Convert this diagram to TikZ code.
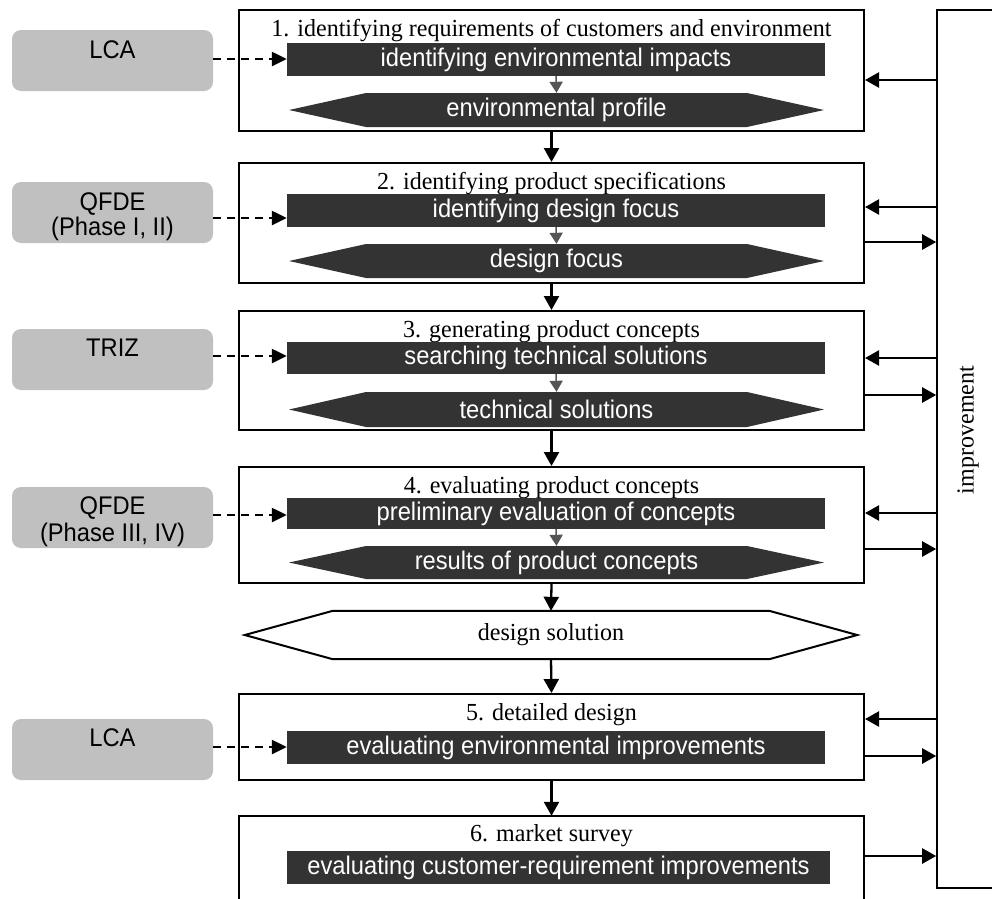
\documentclass[tikz,border=0pt]{standalone}
\usepackage{fontspec}
\setmainfont{Liberation Serif}[FakeStretch=0.98]
\setsansfont{Liberation Sans}[FakeStretch=0.93]
\usetikzlibrary{arrows.meta,calc}
\definecolor{darkbar}{HTML}{333333}
\definecolor{toolgray}{HTML}{C0C0C0}
\definecolor{midgray}{HTML}{555555}
\begin{document}
\begin{tikzpicture}[x=1pt,y=-1pt,
  stagebox/.style={draw=black, line width=2pt, minimum width=625pt, inner sep=0pt},
  serifbig/.style={font=\fontsize{24.5}{29}\selectfont},
  titletext/.style={serifbig, inner sep=0pt, anchor=base},
  sansbig/.style={font=\sffamily\fontsize{25.5}{26}\selectfont},
  darkbar/.style={sansbig, fill=darkbar, text=white, minimum width=538pt, minimum height=33pt, inner sep=0pt},
  hexd/.style={sansbig, text=white, minimum width=535pt, minimum height=34pt, inner sep=0pt,
    path picture={\fill[darkbar] (path picture bounding box.west) -- ([xshift=77pt]path picture bounding box.north west) -- ([xshift=-77pt]path picture bounding box.north east) -- (path picture bounding box.east) -- ([xshift=-77pt]path picture bounding box.south east) -- ([xshift=77pt]path picture bounding box.south west) -- cycle;}},
  tool/.style={fill=toolgray, rounded corners=9pt, minimum width=201pt, minimum height=61pt, inner sep=0pt},
  tooltext/.style={sansbig, inner sep=0pt, anchor=base},
  flow/.style={-{Triangle[length=14pt,width=15pt]}, line width=2.3pt},
  dasharrow/.style={-{Triangle[length=15pt,width=14pt]}, line width=2.4pt, dash pattern=on 8pt off 6pt},
  smallarrow/.style={-{Triangle[length=11pt,width=13pt]}, line width=1.5pt, draw=midgray, fill=midgray},
]
\fill[white] (0,0) rectangle (992,898);
\useasboundingbox (0,0) rectangle (992,898);

% stage boxes
\node[stagebox, minimum height=121pt] (b1) at (551.5,70.5) {};
\node[stagebox, minimum height=120pt] (b2) at (551.5,223) {};
\node[stagebox, minimum height=119pt] (b3) at (551.5,370.5) {};
\node[stagebox, minimum height=116pt] (b4) at (551.5,525) {};
\node[stagebox, minimum height=86pt] (b5) at (551.5,737) {};
\node[minimum width=625pt, minimum height=86pt, inner sep=0pt] (b6) at (551.5,859) {};
\draw[line width=2pt] (b6.south west) -- (b6.north west) -- (b6.north east) -- (b6.south east);

% titles
\node[titletext] (t1) at (551.5,36) {1. identifying requirements of customers and environment};
\node[titletext] (t2) at (551.5,189) {2. identifying product specifications};
\node[titletext] (t3) at (551.5,337) {3. generating product concepts};
\node[titletext] (t4) at (551.5,493) {4. evaluating product concepts};
\node[titletext] (t5) at (551.5,720) {5. detailed design};
\node[titletext] (t6) at (551.5,841) {6. market survey};

% dark bars
\node[darkbar] (r1) at (556,59.5) {identifying environmental impacts};
\node[darkbar] (r2) at (556,210.5) {identifying design focus};
\node[darkbar, minimum height=32pt] (r3) at (556,358) {searching technical solutions};
\node[darkbar, minimum height=31pt] (r4) at (556,513.5) {preliminary evaluation of concepts};
\node[darkbar] (r5) at (556,747.5) {evaluating environmental improvements};
\node[darkbar, minimum width=543pt] (r6) at (558.5,867.5) {evaluating customer-requirement improvements};

% dark hexagons
\node[hexd] (h1) at (556.5,110) {environmental profile};
\node[hexd] (h2) at (556.5,261) {design focus};
\node[hexd, minimum height=35pt] (h3) at (556.5,409.5) {technical solutions};
\node[hexd, minimum height=33pt] (h4) at (556.5,562.5) {results of product concepts};

% design solution
\node[serifbig, minimum width=612pt, minimum height=48pt, inner sep=0pt] (ds) at (551,635) {design solution};
\draw[line width=2pt, line join=miter] (ds.west) -- ([xshift=88pt]ds.north west) -- ([xshift=-88pt]ds.north east) -- (ds.east) -- ([xshift=-88pt]ds.south east) -- ([xshift=88pt]ds.south west) -- cycle;

% small gray arrows inside stages
\draw[smallarrow] (r1.south) -- (h1.north);
\draw[smallarrow] (r2.south) -- (h2.north);
\draw[smallarrow] (r3.south) -- (h3.north);
\draw[smallarrow] (r4.south) -- (h4.north);

% flow arrows between stages
\draw[flow] (b1.south) -- (b2.north);
\draw[flow] (b2.south) -- (b3.north);
\draw[flow] (b3.south) -- (b4.north);
\draw[flow] (b4.south) -- (ds.north);
\draw[flow] (ds.south) -- (b5.north);
\draw[flow] (b5.south) -- (b6.north);

% tools
\node[tool] (L1) at (112.5,60.5) {};
\node[tool] (L2) at (112.5,212.5) {};
\node[tool] (L3) at (112.5,359.5) {};
\node[tool] (L4) at (112.5,517.5) {};
\node[tool] (L5) at (112.5,749.5) {};
\node[tooltext] (L1a) at (112.5,58) {LCA};
\node[tooltext] (L2a) at (112.5,210) {QFDE};
\node[tooltext] (L2b) at (112.5,235.5) {(Phase I, II)};
\node[tooltext] (L3a) at (112.5,356) {TRIZ};
\node[tooltext] (L4a) at (112.5,514) {QFDE};
\node[tooltext] (L4b) at (112.5,541) {(Phase III, IV)};
\node[tooltext] (L5a) at (112.5,746.5) {LCA};

\draw[dasharrow] (L1.east |- 0,59) -- (r1.west |- 0,59);
\draw[dasharrow] (L2.east |- 0,218) -- (r2.west |- 0,218);
\draw[dasharrow] (L3.east |- 0,356) -- (r3.west |- 0,356);
\draw[dasharrow] (L4.east |- 0,515) -- (r4.west |- 0,515);
\draw[dasharrow] (L5.east |- 0,747) -- (r5.west |- 0,747);

% improvement box
\node[draw, line width=1.6pt, minimum width=58pt, minimum height=878pt, inner sep=0pt] (imp) at (966,449) {};
\node[serifbig, rotate=90, inner sep=0pt] (impt) at (968,430) {improvement};

% feedback arrows
\draw[flow] (imp.west |- 0,80) -- (b1.east |- 0,80);
\draw[flow] (imp.west |- 0,207) -- (b2.east |- 0,207);
\draw[flow] (b2.east |- 0,242) -- (imp.west |- 0,242);
\draw[flow] (imp.west |- 0,358) -- (b3.east |- 0,358);
\draw[flow] (b3.east |- 0,395) -- (imp.west |- 0,395);
\draw[flow] (imp.west |- 0,513) -- (b4.east |- 0,513);
\draw[flow] (b4.east |- 0,549) -- (imp.west |- 0,549);
\draw[flow] (imp.west |- 0,719) -- (b5.east |- 0,719);
\draw[flow] (b5.east |- 0,756) -- (imp.west |- 0,756);
\draw[flow] (b6.east |- 0,856) -- (imp.west |- 0,856);
\end{tikzpicture}
\end{document}
